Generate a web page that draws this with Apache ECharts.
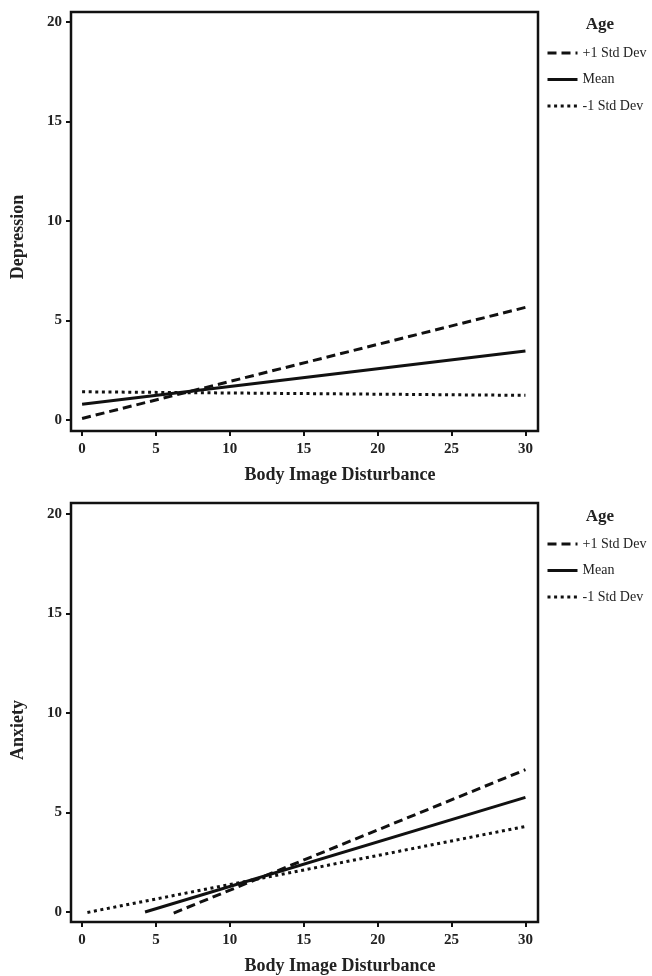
<!DOCTYPE html>
<html lang="en">
<head>
    <meta http-equiv="Content-Type" content="text/html; charset=UTF-8"/>
    <title>Body Image Disturbance x Age</title>
    <script src="https://cdn.jsdelivr.net/npm/echarts@6.0.0/dist/echarts.min.js"></script>
    <style>
        * {
            margin: 0;
            padding: 0;
            box-sizing: border-box;
        }

        body {
            background: #fff;
        }

        #gen {
            width: 652px;
            height: 976px;
        }
    </style>
</head>
<body>
<div id="gen"></div>
<script>
    // axis ticks
    const xTicks = [0, 5, 10, 15, 20, 25, 30];
    const yTicks = [0, 5, 10, 15, 20];
    const groups = ['+1 Std Dev', 'Mean', '-1 Std Dev'];

    // depression panel (x start / end, y start / end)
    const depX = [0, 30];
    const depHigh = [0.08, 5.66];
    const depMean = [0.79, 3.47];
    const depLow = [1.42, 1.24];

    // anxiety panel
    const anxHighX = [6.2, 30];
    const anxHigh = [-0.05, 7.15];
    const anxMeanX = [4.26, 30];
    const anxMean = [0, 5.76];
    const anxLowX = [0.36, 30];
    const anxLow = [-0.02, 4.3];

    const font = "'Liberation Serif', 'DejaVu Serif', serif";
    const ink = '#111';
    const dashes = [[9, 5], 'solid', [3, 3.6]];

    function pairs(xs, ys) {
        return xs.map((x, i) => [x, ys[i]]);
    }

    function makeX(idx) {
        return {
            type: 'value', gridIndex: idx, min: -0.75, max: 30.85,
            axisLine: {show: false, onZero: false},
            splitLine: {show: false},
            axisTick: {show: true, length: 5, customValues: xTicks, lineStyle: {color: ink, width: 2}},
            axisLabel: {
                customValues: xTicks, margin: 11,
                fontFamily: font, fontWeight: 'bold', fontSize: 15, color: '#222'
            }
        };
    }

    function makeY(idx, min, max) {
        return {
            type: 'value', gridIndex: idx, min: min, max: max,
            axisLine: {show: false, onZero: false},
            splitLine: {show: false},
            axisTick: {show: true, length: 5, customValues: yTicks, lineStyle: {color: ink, width: 2}},
            axisLabel: {
                customValues: yTicks, margin: 9,
                fontFamily: font, fontWeight: 'bold', fontSize: 15, color: '#222'
            }
        };
    }

    function makeSeries(idx, list) {
        return list.map((d, i) => ({
            name: groups[i],
            type: 'line',
            xAxisIndex: idx,
            yAxisIndex: idx,
            data: d,
            symbol: 'none',
            silent: true,
            itemStyle: {color: ink},
            lineStyle: {color: ink, width: 3, type: dashes[i]}
        }));
    }

    function makeLegend(top) {
        return {
            orient: 'vertical', left: 541, top: top,
            itemWidth: 30, itemHeight: 14, itemGap: 12.5,
            selectedMode: false,
            data: groups,
            itemStyle: {opacity: 0},
            lineStyle: {width: 3},
            textStyle: {fontFamily: font, fontSize: 14, color: '#222'}
        };
    }

    function label(text, x, y, size, rot) {
        return {
            type: 'text', x: x, y: y, rotation: rot || 0,
            style: {
                text: text, fill: '#222', font: 'bold ' + size + 'px ' + font,
                textAlign: 'center', textVerticalAlign: 'middle'
            }
        };
    }

    const chart = echarts.init(document.getElementById('gen'));
    const option = {
        animation: false,
        backgroundColor: '#fff',
        grid: [
            {left: 71, top: 12, width: 467, height: 419, show: true, borderColor: ink, borderWidth: 2.5},
            {left: 71, top: 503, width: 467, height: 419, show: true, borderColor: ink, borderWidth: 2.5}
        ],
        xAxis: [makeX(0), makeX(1)],
        yAxis: [makeY(0, -0.55, 20.5), makeY(1, -0.5, 20.55)],
        legend: [makeLegend(41), makeLegend(532)],
        series: makeSeries(0, [
            pairs(depX, depHigh), pairs(depX, depMean), pairs(depX, depLow)
        ]).concat(makeSeries(1, [
            pairs(anxHighX, anxHigh), pairs(anxMeanX, anxMean), pairs(anxLowX, anxLow)
        ])),
        graphic: [
            label('Age', 600, 25, 17),
            label('Age', 600, 517, 17),
            label('Body Image Disturbance', 340, 475, 18),
            label('Body Image Disturbance', 340, 966, 18),
            label('Depression', 18, 237, 18, Math.PI / 2),
            label('Anxiety', 18, 730, 18, Math.PI / 2)
        ]
    };
    chart.setOption(option);
</script>
</body>
</html>
